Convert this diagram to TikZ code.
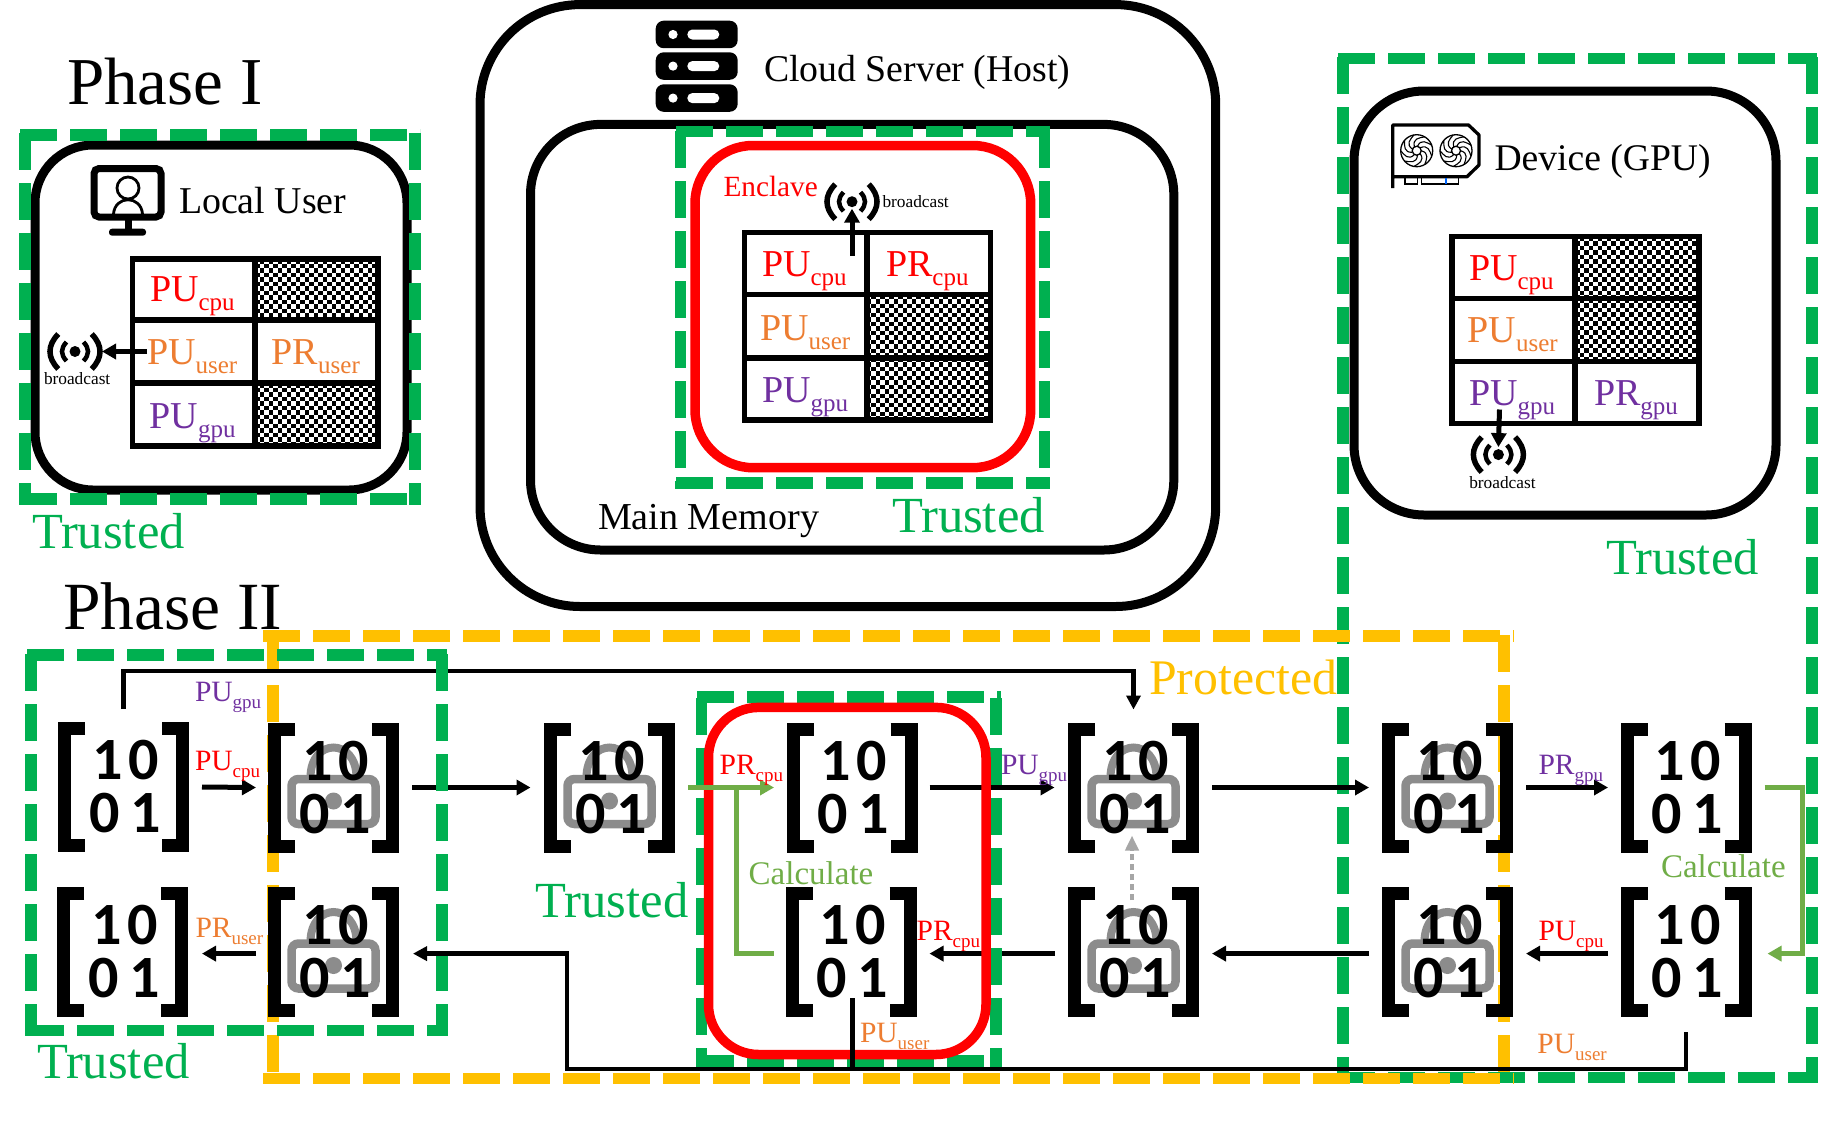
\documentclass[tikz,border=0pt]{standalone}
\usepackage{fontspec}
\setmainfont{Liberation Serif}
\newfontfamily\digf{Carlito Bold}
\usetikzlibrary{arrows.meta}
\definecolor{tgreen}{HTML}{00B050}
\definecolor{pyellow}{HTML}{FFC000}
\definecolor{uorange}{HTML}{ED7D31}
\definecolor{gpurple}{HTML}{7030A0}
\definecolor{calcg}{HTML}{70AD47}
\definecolor{lockg}{HTML}{8C8C8C}
\tikzset{
  txt/.style={inner sep=0pt,outer sep=0pt,anchor=base west,yshift=-1.4pt},
  outerbox/.style={draw=black,line width=9pt},
  enclavebox/.style={draw=red,line width=9.5pt},
  dsh/.style={line width=11.5pt,dash pattern=on 37.3pt off 12.7pt},
  tbl/.style={draw=black,line width=5.5pt},
  brk/.style={draw=black,line width=13pt,miter limit=10},
  matbox/.style={inner sep=0pt,outer sep=0pt,minimum width=131pt,minimum height=130pt},
  digit/.style={inner sep=0pt,outer sep=0pt,anchor=base,font=\digf\fontsize{60}{60}\selectfont},
  arr/.style={draw=black,line width=5pt,-{Triangle[length=14pt,width=15pt]}},
  thinarr/.style={draw=black,line width=4.5pt,-{Triangle[length=14pt,width=14pt]}},
  bus/.style={draw=black,line width=4.5pt},
  carr/.style={draw=calcg,line width=5pt,-{Triangle[length=14pt,width=15pt]}},
  cline/.style={draw=calcg,line width=5pt},
  rowb/.style={yshift=-1.6pt},
  bwave/.style={draw=black,line cap=butt},
}
\newcommand\bigk[6]{\node[txt,text=#2] (#1) at (#3,#4) {\fontsize{38}{38}\selectfont #5\raisebox{-9pt}{\fontsize{25}{25}\selectfont #6}};}
\newcommand\smk[6]{\node[txt,text=#2] (#1) at (#3,#4) {\fontsize{29.5}{30}\selectfont #5\raisebox{-7pt}{\fontsize{19}{19}\selectfont #6}};}
\newcommand\ttl[6]{\node[txt,text=#2] (#1) at (#3,#4) {\fontsize{#5}{#5}\selectfont #6};}
% color, L, T, R, B, side start, xstart, xend
\newcommand\dbox[8]{%
  \draw[dsh,draw=#1] (#7,#3) -- (#8,#3);
  \draw[dsh,draw=#1] (#7,#5) -- (#8,#5);
  \draw[dsh,draw=#1] (#2,#6) -- (#2,#5+5.7);
  \draw[dsh,draw=#1] (#4,#6) -- (#4,#5+5.7);
}
% name, x, y: matrix
\newcommand\mtx[3]{%
  \node[matbox] (#1) at (#2,#3) {};
  \begin{scope}[shift={(#2,#3)}]
    \draw[brk] (-38.5,-58.5) -- (-59,-58.5) -- (-59,58.5) -- (-38.5,58.5);
    \draw[brk] (38.5,-58.5) -- (59,-58.5) -- (59,58.5) -- (38.5,58.5);
    \node[digit] (#1-a) at (-16,-7.5) {1};
    \node[digit] (#1-b) at (20,-7.5) {0};
    \node[digit] (#1-c) at (-19,45.5) {0};
    \node[digit] (#1-d) at (22,45.5) {1};
  \end{scope}}
% lock under a matrix: x, y
\newcommand\lck[2]{%
  \begin{scope}[shift={(#1,#2)}]
    \draw[draw=lockg,line width=8pt] (-23,-10) .. controls (-23,-50) and (23,-50) .. (23,-10);
    \draw[draw=lockg,line width=8.5pt,rounded corners=7pt,fill=white] (-42,-8.5) rectangle (42,36.5);
    \fill[lockg] (0,13.5) circle (8.5);
  \end{scope}}
% broadcast icon
\newcommand\bcast[3]{%
  \node[circle,fill=black,inner sep=0pt,minimum size=11pt] (#1) at (#2,#3) {};
  \begin{scope}[shift={(#2,#3)}]
    \draw[bwave,line width=4.5pt] (8.5,-9.5) .. controls (14.5,-3) and (14.5,3) .. (8.5,9.5);
    \draw[bwave,line width=4.5pt] (-8.5,-9.5) .. controls (-14.5,-3) and (-14.5,3) .. (-8.5,9.5);
    \draw[bwave,line width=5.5pt] (16.7,-17.5) .. controls (27.8,-6) and (27.8,6) .. (16.7,17.5);
    \draw[bwave,line width=5.5pt] (-16.7,-17.5) .. controls (-27.8,-6) and (-27.8,6) .. (-16.7,17.5);
  \end{scope}}
% table: L, T, midx, R, y1, y2, B
\newcommand\tblgrid[7]{%
  \draw[tbl] (#1,#2) rectangle (#4,#7);
  \draw[tbl] (#1,#5) -- (#4,#5);
  \draw[tbl] (#1,#6) -- (#4,#6);
  \draw[tbl] (#3,#2) -- (#3,#7);}
\newcommand\chk[4]{%
  \begin{scope}
    \clip (#1,#2) rectangle (#3,#4);
    \foreach \i in {0,...,28}{\foreach \j in {0,...,15}{%
      \ifodd\numexpr\i+\j\relax
        \fill[black] (#1+\i*4.5,#2+\j*4.5) rectangle (#1+\i*4.5+4.5,#2+\j*4.5+4.5);
      \fi}}
  \end{scope}}
% fan
\newcommand\fan[2]{%
  \begin{scope}[shift={(#1,#2)}]
    \draw[black,line width=1.3pt] (0,0) circle (16);
    \draw[black,line width=1.3pt] (0,0) circle (4.5);
    \foreach \a in {0,40,...,320}
      \draw[black,line width=1.1pt] (\a:4.5) .. controls (\a+10:13) and (\a+40:13) .. (\a+60:16);
  \end{scope}}
\begin{document}
\begin{tikzpicture}[x=1pt,y=-1pt]
\useasboundingbox (0,0) rectangle (1824,1120);
\fill[white] (0,0) rectangle (1824,1120);

% ---- big black boxes
\draw[outerbox,rounded corners=100pt] (480,4.6) rectangle (1215.7,606.5);
\draw[outerbox,rounded corners=70pt] (530.5,124.4) rectangle (1173.8,550);
\draw[outerbox,rounded corners=58pt] (35,145) rectangle (407,490);
\draw[outerbox,rounded corners=70pt] (1354,91) rectangle (1776,515);

% ---- trusted frames phase I
\dbox{tgreen}{25}{135}{415}{499}{133}{20}{420}
\dbox{tgreen}{680.6}{131.6}{1044.6}{483}{131}{676}{1050}
\draw[enclavebox,rounded corners=58pt] (695,145.5) rectangle (1030.7,467.7);
\dbox{tgreen}{1343}{58.5}{1812}{1077.6}{57}{1338}{1817}

% ---- protected frame
\dbox{pyellow}{273}{636}{1504}{1078.5}{635}{263}{1514}

% ---- tables
\chk{255}{259}{378}{320}\chk{255}{383}{378}{446}
\tblgrid{132.6}{259}{255}{378}{320}{383}{446}
\chk{866.8}{294.7}{990.5}{357.8}\chk{866.8}{357.8}{990.5}{420}
\tblgrid{744.6}{232.7}{866.8}{990.5}{294.7}{357.8}{420}
\chk{1575}{236.5}{1699}{298.5}\chk{1575}{298.5}{1699}{361.7}
\tblgrid{1452}{236.5}{1575}{1699}{298.5}{361.7}{423.6}

% ---- table labels
\bigk{la}{red}{150}{300.4}{PU}{cpu}
\bigk{lb}{uorange}{147}{363.5}{PU}{user}
\bigk{lc}{uorange}{271.7}{363.5}{PR}{user}
\bigk{ld}{gpurple}{149.5}{426.7}{PU}{gpu}
\bigk{ea}{red}{762}{275.5}{PU}{cpu}
\bigk{eb}{red}{886}{275.5}{PR}{cpu}
\bigk{ec}{uorange}{760}{338.7}{PU}{user}
\bigk{ed}{gpurple}{762}{401}{PU}{gpu}
\bigk{da}{red}{1469}{279.4}{PU}{cpu}
\bigk{db}{uorange}{1467.5}{341.4}{PU}{user}
\bigk{dc}{gpurple}{1469}{404.5}{PU}{gpu}
\bigk{dd}{gpurple}{1594}{404.5}{PR}{gpu}

% ---- broadcast
\bcast{bcl}{75}{351.5}
\bcast{bce}{852}{201.7}
\bcast{bcd}{1498.4}{454.6}
\coordinate (bclsrc) at (147,351.5);
\coordinate (bcesrc) at (852,255.6);
\coordinate (bcdsrc) at (1499.5,409.5);
\draw[arr] (bclsrc) -- ([xshift=27pt]bcl.center);
\draw[arr] (bcesrc) -- ([yshift=-7pt]bce.center);
\draw[arr] (bcdsrc) -- ([yshift=7.5pt]bcd.center);
\ttl{bta}{black}{44}{382.7}{17.3}{broadcast}
\ttl{btb}{black}{882.5}{206}{17.3}{broadcast}
\ttl{btc}{black}{1469.3}{486.8}{17.3}{broadcast}

% ---- titles
\ttl{ph1}{black}{67}{103.3}{67}{Phase I}
\ttl{ph2}{black}{63}{628}{67.5}{Phase II}
\ttl{tlu}{black}{179}{212.4}{37.9}{Local User}
\ttl{tcs}{black}{764}{79.6}{37.8}{Cloud Server (Host)}
\ttl{tdv}{black}{1494.5}{169.5}{37.6}{Device (GPU)}
\ttl{tmm}{black}{598}{528}{38.1}{Main Memory}
\ttl{ten}{red}{723.5}{195}{29.3}{Enclave}
\ttl{tr1}{tgreen}{32}{547}{50.6}{Trusted}
\ttl{tr2}{tgreen}{892}{531}{50.6}{Trusted}
\ttl{tr3}{tgreen}{1606}{573}{50.6}{Trusted}
\ttl{tr4}{tgreen}{535.5}{916}{50.6}{Trusted}
\ttl{tr5}{tgreen}{37}{1077}{50.6}{Trusted}
\ttl{tpr}{pyellow}{1149}{693}{49.8}{Protected}

% ---- monitor icon
\draw[black,line width=7pt,rounded corners=5pt] (94,168.5) rectangle (161,217);
\fill[black] (125,220) rectangle (131.7,230);
\fill[black,rounded corners=3pt] (109,228.7) rectangle (146,235.7);
\draw[black,line width=2.8pt] (128,188) circle (11);
\draw[black,line width=2.8pt] (113.5,214) .. controls (115,195) and (141,195) .. (142.5,214);

% ---- server icon
\foreach \yy in {20.7,52.3,84.3}{
  \fill[black,rounded corners=8pt] (655.7,\yy) rectangle (737.7,\yy+27.5);
  \fill[white] (673,\yy+13.8) circle (4.6);
  \fill[white,rounded corners=5pt] (687.3,\yy+8.8) rectangle (719.3,\yy+18.8);
}

% ---- gpu icon
\draw[black,line width=3.3pt,line join=round] (1392.7,188) -- (1392.7,125) -- (1468.5,125) -- (1479,135) -- (1479,165) -- (1467,176.7) -- (1392.7,176.7);
\draw[black,line width=1.3pt] (1405,177.5) rectangle (1417.3,184);
\draw[black,line width=1.3pt] (1421.7,177.5) rectangle (1458.3,184);
\fill[blue!60!cyan] (1445,178) rectangle (1447,184);
\fan{1416.7}{150.7}
\fan{1456}{150.7}

% ---- matrices: locks beneath digits
\lck{333.5}{787.5}\lck{609.5}{787.5}\lck{1133.5}{787.5}\lck{1447.5}{787.5}
\lck{333.5}{952}\lck{1133.5}{952}\lck{1447.5}{952}
\mtx{ma}{123.5}{787}
\mtx{mb}{333.5}{787.5}
\mtx{mc}{609.5}{787.5}
\mtx{md}{852}{787.5}
\mtx{me}{1133.5}{787.5}
\mtx{mf}{1447.5}{787.5}
\mtx{mg}{1686}{787.5}
\mtx{na}{122.5}{952}
\mtx{nb}{333.5}{952}
\mtx{nd}{851}{952}
\mtx{ne}{1133.5}{952}
\mtx{nf}{1447.5}{952}
\mtx{ng}{1686}{952}

% ---- black connectors below the later frames
\draw[arr] ([xshift=13pt]ma.east) -- ([xshift=-12pt]mb.west);
\draw[arr] ([xshift=13pt]mb.east) -- ([xshift=-13.5pt]mc.west);
\draw[arr] ([xshift=12pt]md.east) -- ([xshift=-13.5pt]me.west);
\draw[arr] ([xshift=13pt]me.east) -- ([xshift=-13pt]mf.west);
\draw[arr] ([xshift=13pt]mf.east) -- ([xshift=-12.5pt]mg.west);
\draw[arr] ([rowb,xshift=-12.5pt]ng.west) -- ([rowb,xshift=13pt]nf.east);
\draw[arr] ([rowb,xshift=-13pt]nf.west) -- ([rowb,xshift=13pt]ne.east);
\draw[arr] ([rowb,xshift=-13.5pt]ne.west) -- ([rowb,xshift=13pt]nd.east);
\draw[arr] ([rowb,xshift=-12pt]nb.west) -- ([rowb,xshift=14pt]na.east);
\coordinate (topl) at (123.5,671);
\coordinate (topr) at (1133.5,671);
\draw[thinarr] ([yshift=13pt]ma.north) -- (topl) -- (topr) -- ([yshift=13pt]me.north);

% ---- phase II frames
\dbox{tgreen}{31}{655}{442}{1030.5}{654}{27}{447}
\dbox{tgreen}{701.5}{697}{996}{1061}{698}{697}{1001}
\draw[enclavebox,rounded corners=50pt] (708.5,707.4) rectangle (986,1054.5);

% ---- bottom bus and remaining connectors
\coordinate (busr) at (1686,1069);
\coordinate (busl) at (567,1069);
\coordinate (bust) at (567,953.6);
\coordinate (busm) at (852.5,1069);
\draw[thinarr] ([yshift=-15pt]ng.south) -- (busr) -- (busl) -- (bust) -- ([rowb,xshift=14pt]nb.east);
\draw[bus] ([xshift=1.5pt,yshift=-46pt]nd.center) -- (busm);
\draw[draw=black!35,line width=4pt,dash pattern=on 6pt off 4pt,-{Triangle[length=15pt,width=13pt]}] ([xshift=-1.5pt,yshift=-13pt]ne.north) -- ([xshift=-1.5pt,yshift=17pt]me.south);

% ---- calculate connectors
\coordinate (calca) at (736,787.5);
\coordinate (calcb) at (736,953.6);
\coordinate (calcc) at (774,953.6);
\coordinate (calcd) at (1802,787.5);
\coordinate (calce) at (1802,953.6);
\draw[carr] ([xshift=13pt]mc.east) -- ([xshift=-12.5pt]md.west);
\draw[cline] (calca) -- (calcb) -- (calcc);
\draw[carr] ([xshift=13pt]mg.east) -- (calcd) -- (calce) -- ([rowb,xshift=16pt]ng.east);

% ---- phase II labels
\smk{sa}{gpurple}{195}{700.5}{PU}{gpu}
\smk{sb}{red}{195}{768.7}{PU}{cpu}
\smk{sc}{uorange}{195.5}{935.7}{PR}{user}
\smk{sd}{red}{719.6}{773.5}{PR}{cpu}
\smk{se}{uorange}{860}{1041}{PU}{user}
\smk{sf}{gpurple}{1001}{773.5}{PU}{gpu}
\smk{sg}{gpurple}{1538.5}{773.5}{PR}{gpu}
\smk{sh}{red}{916.6}{939}{PR}{cpu}
\smk{si}{red}{1538.5}{939}{PU}{cpu}
\smk{sj}{uorange}{1537.4}{1052.5}{PU}{user}
\ttl{ca}{calcg}{748.7}{883}{33}{Calculate}
\ttl{cb}{calcg}{1661}{876}{33}{Calculate}
\end{tikzpicture}
\end{document}
